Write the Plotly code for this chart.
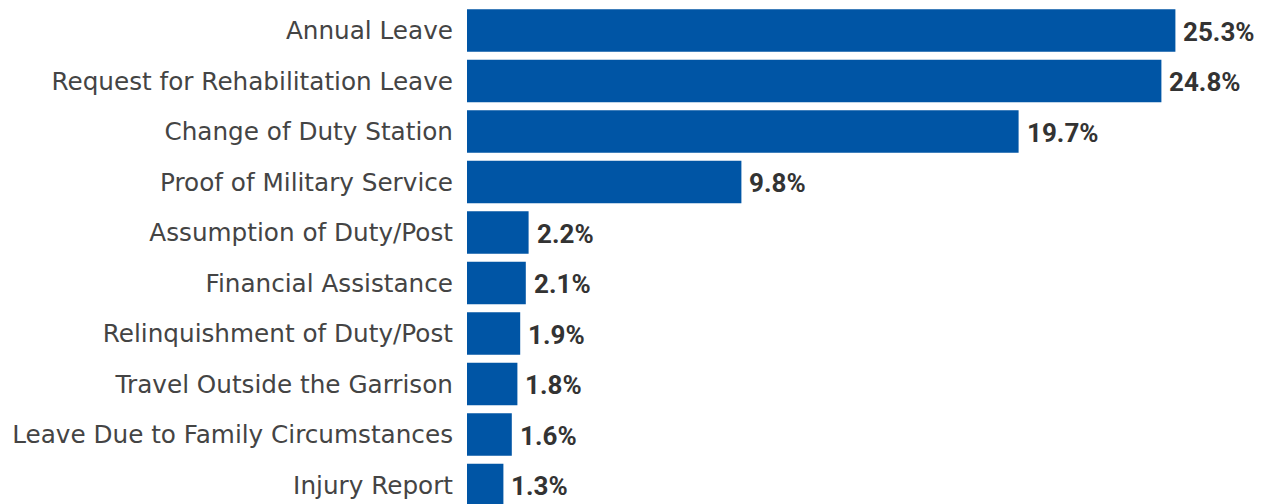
import plotly.graph_objects as go

categories = [
    "Annual Leave",
    "Request for Rehabilitation Leave",
    "Change of Duty Station",
    "Proof of Military Service",
    "Assumption of Duty/Post",
    "Financial Assistance",
    "Relinquishment of Duty/Post",
    "Travel Outside the Garrison",
    "Leave Due to Family Circumstances",
    "Injury Report",
]
values = [25.3, 24.8, 19.7, 9.8, 2.2, 2.1, 1.9, 1.8, 1.6, 1.3]
value_labels = [f"{v:.1f}%" for v in values]

BAR_COLOR = "#0055a5"

fig = go.Figure()
fig.add_trace(go.Bar(
    x=values,
    y=categories,
    orientation="h",
    marker=dict(color=BAR_COLOR, line=dict(width=0)),
    hoverinfo="skip",
))

for c, v, t in zip(categories, values, value_labels):
    fig.add_annotation(
        x=v, y=c, text=f"<b>{t}</b>", showarrow=False,
        xanchor="left", yanchor="middle", xshift=6, yshift=-1,
        font=dict(family="Roboto", size=26, color="#333333"),
    )

fig.update_layout(
    width=1265, height=504,
    margin=dict(l=467, r=0, t=0, b=0),
    paper_bgcolor="white", plot_bgcolor="white",
    bargap=0.155,
    showlegend=False,
    xaxis=dict(visible=False, range=[0, 798 / 28.0], fixedrange=True),
    yaxis=dict(
        type="category",
        categoryorder="array", categoryarray=categories,
        range=[9.376, -0.604],
        showgrid=False, zeroline=False, showline=False,
        ticks="", ticklabelstandoff=13,
        tickfont=dict(family="DejaVu Sans", size=24.7, color="#444444"),
    ),
)

fig.write_html("out.html")
